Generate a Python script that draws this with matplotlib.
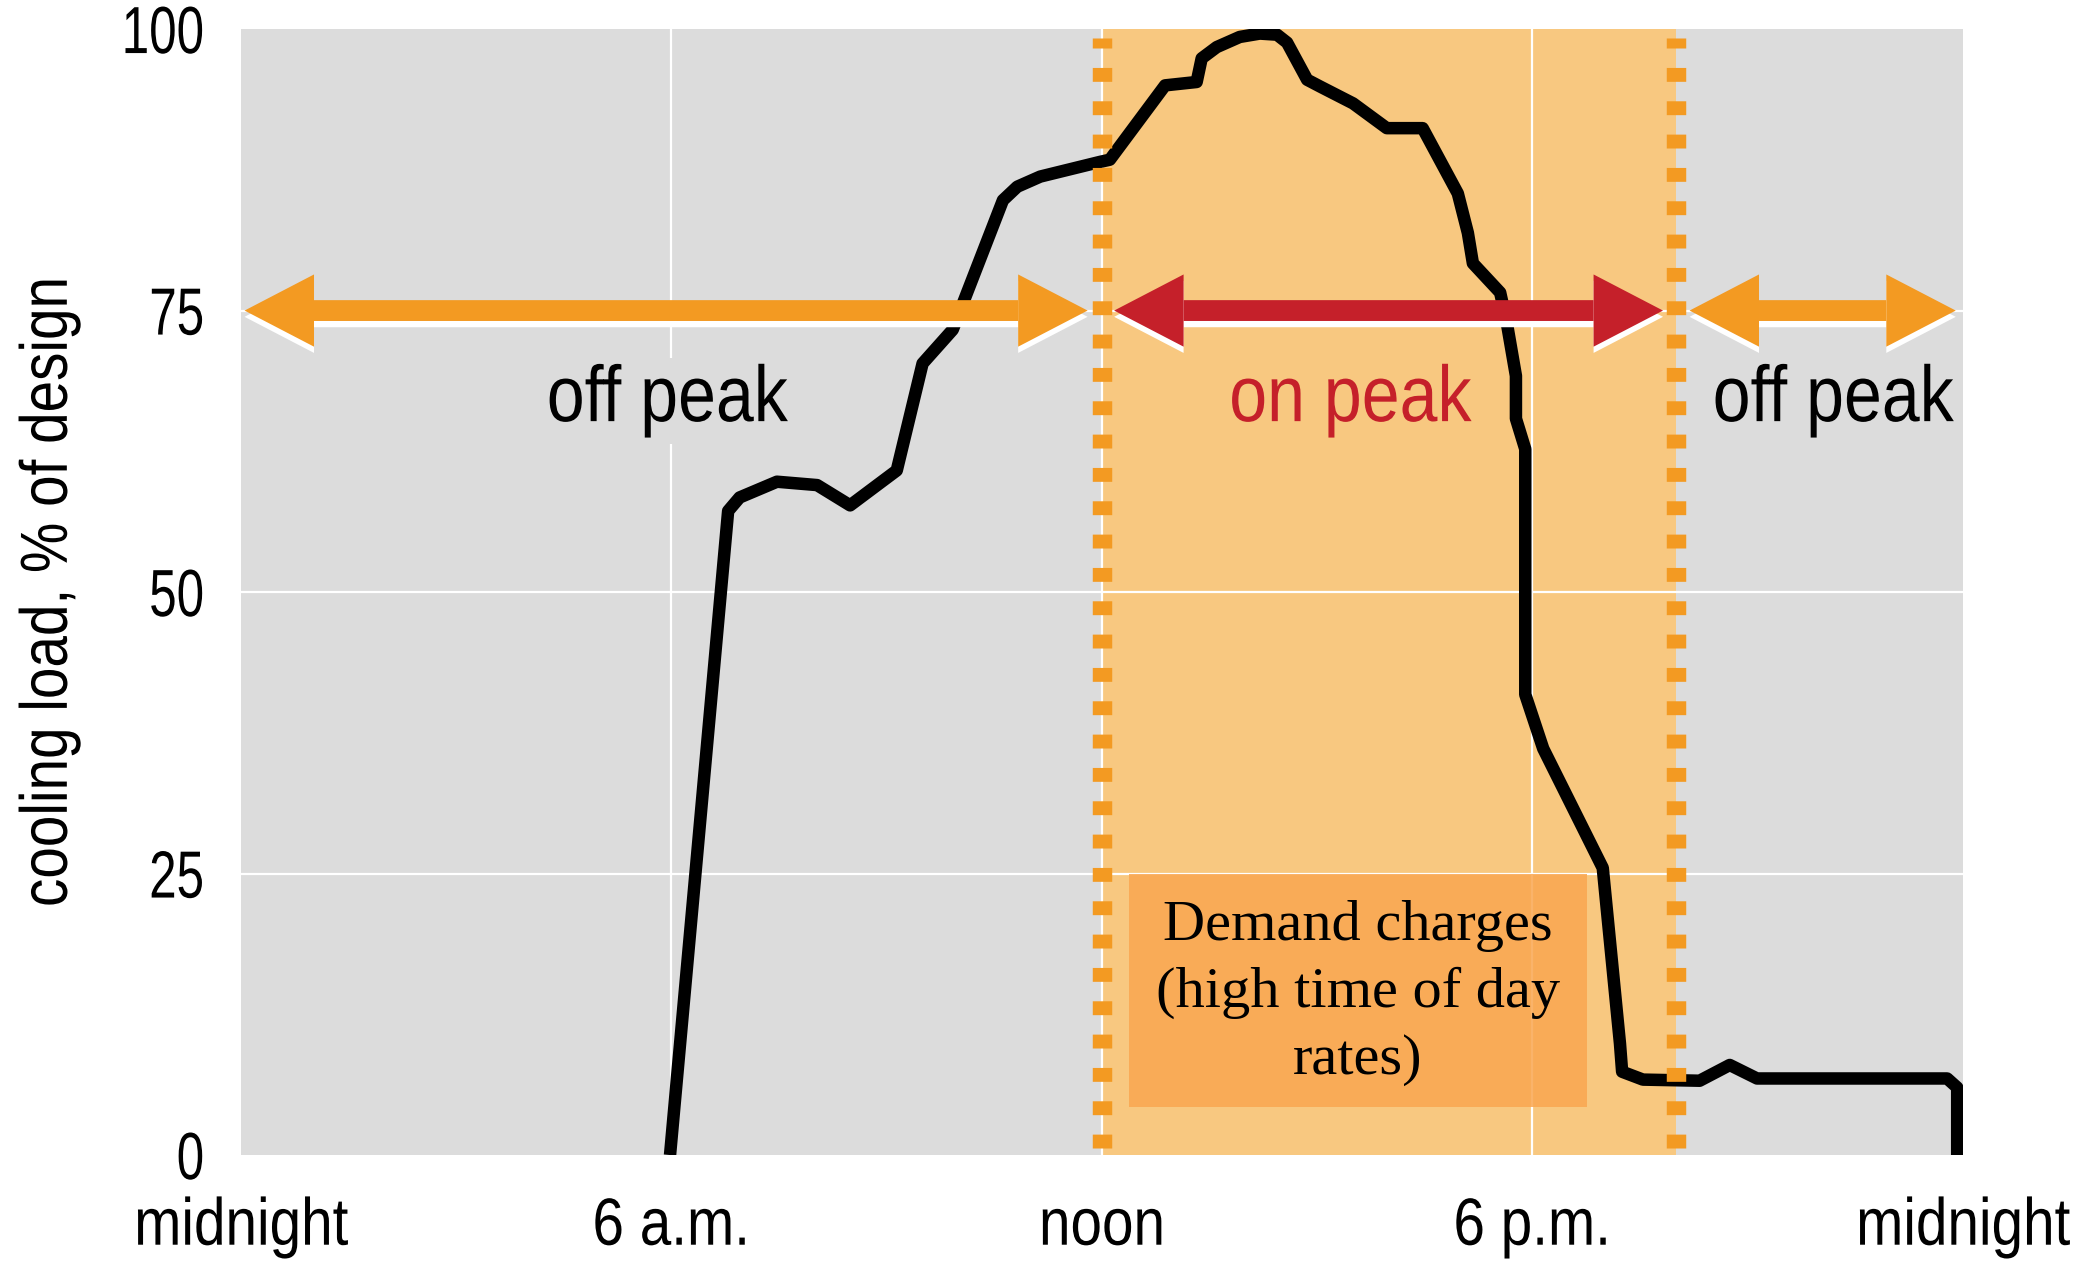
import matplotlib
matplotlib.use("Agg")
import matplotlib.pyplot as plt
import matplotlib.patheffects as pe
from matplotlib.patches import FancyArrowPatch, Rectangle
from matplotlib.transforms import Affine2D

# cooling load profile (hour of day, % of design)
hours = [5.98, 6.79, 6.95, 7.47, 8.03, 8.49, 9.14, 9.5, 9.92, 10.62, 10.82, 11.14,
         11.97, 12.11, 12.88, 13.32, 13.39, 13.6, 13.92, 14.2, 14.44, 14.58, 14.86,
         15.04, 15.5, 15.97, 16.47, 16.96, 17.1, 17.17, 17.55, 17.64, 17.77, 17.77,
         17.9, 17.9, 18.15, 18.98, 19.22, 19.25, 19.54, 20.33, 20.75, 21.13, 23.78,
         23.92, 23.92]
load = [0, 57.2, 58.4, 59.8, 59.5, 57.7, 60.8, 70.3, 73.3, 84.8, 86.0, 86.9,
        88.2, 88.4, 95.0, 95.3, 97.4, 98.4, 99.3, 99.6, 99.5, 98.8, 95.5,
        94.9, 93.4, 91.2, 91.2, 85.4, 81.9, 79.2, 76.6, 74.0, 69.2, 65.4,
        62.7, 40.9, 36.1, 25.5, 9.9, 7.4, 6.7, 6.6, 8.0, 6.8, 6.8,
        6.0, 0]

xticks = [0, 6, 12, 18, 24]
xlabels = ["midnight", "6 a.m.", "noon", "6 p.m.", "midnight"]
yticks = [0, 25, 50, 75, 100]

on_peak = (12, 20)
arrow_y = 75
periods = [(0.05, 11.8, "off peak", "#F39A22"),
           (12.17, 19.82, "on peak", "#C5202A"),
           (20.19, 23.9, "off peak", "#F39A22")]
label_x = [5.94, 15.46, 22.19]
label_y = 67

demand_box = (12.38, 4.3, 18.76, 25)
demand_text = "Demand charges\n(high time of day\nrates)"

GRAY = "#DCDCDC"
BAND = "#F8C880"
ORANGE = "#F39A22"
sans = ["Liberation Sans Narrow", "Arial Narrow", "Liberation Sans"]

plt.rcParams["lines.scale_dashes"] = False


class Squeeze(pe.AbstractPathEffect):
    """narrow the text (no condensed font installed)"""

    def __init__(self, sx=1.0, sy=1.0, anchor="center"):
        super().__init__()
        self.sx, self.sy, self.anchor = sx, sy, anchor

    def draw_path(self, renderer, gc, tpath, affine, rgbFace=None):
        ext = tpath.get_extents(affine)
        cx = ext.x1 if self.anchor == "right" else (ext.x0 + ext.x1) / 2
        cy = (ext.y0 + ext.y1) / 2
        t = affine + Affine2D().translate(-cx, -cy).scale(self.sx, self.sy).translate(cx, cy)
        renderer.draw_path(gc, tpath, t, rgbFace)


fig = plt.figure(figsize=(20.9, 12.64), dpi=100)
ax = fig.add_axes([0.1153, 0.0862, 0.8239, 0.8908])
ax.set_facecolor(GRAY)
ax.set_xlim(0, 24)
ax.set_ylim(0, 100)
for s in ax.spines.values():
    s.set_visible(False)

ax.axvspan(*on_peak, color=BAND, zorder=0.5, lw=0)

# white grid, interior only
for x in xticks[1:-1]:
    ax.axvline(x, color="white", lw=1.6, zorder=1)
for y in yticks[1:-1]:
    ax.axhline(y, color="white", lw=1.6, zorder=1)

x0, y0, x1, y1 = demand_box
ax.add_patch(Rectangle((x0, y0), x1 - x0, y1 - y0, facecolor="#FAA650",
                       alpha=0.85, lw=0, zorder=1.5))
ax.text((x0 + x1) / 2, 14.4, demand_text, ha="center", va="center",
        family="Liberation Serif", fontsize=42, linespacing=1.36, zorder=2)

ax.plot(hours, load, color="black", lw=9, solid_joinstyle="round",
        solid_capstyle="butt", zorder=3)

for x in on_peak:
    ax.plot([x, x], [0.6, 99.2], color=ORANGE, lw=14, dashes=(10, 14),
            dash_capstyle="butt", zorder=4)

head_len, head_w, shaft = 50, 26, 15
for (a, b, name, col), lx in zip(periods, label_x):
    body = FancyArrowPatch((a, arrow_y), (b, arrow_y), arrowstyle="-",
                           lw=shaft, color=col, capstyle="butt",
                           shrinkA=head_len * 0.6, shrinkB=head_len * 0.6,
                           zorder=5)
    body.set_path_effects([pe.SimpleLineShadow(offset=(0, -4.5),
                                               shadow_color="white", alpha=1),
                           pe.Normal()])
    ax.add_patch(body)
    heads = FancyArrowPatch((a, arrow_y), (b, arrow_y),
                            arrowstyle=f"<|-|>,head_length={head_len},head_width={head_w}",
                            mutation_scale=1, lw=0, color=col,
                            shrinkA=0, shrinkB=0, zorder=5.5)
    heads.set_path_effects([pe.SimplePatchShadow(offset=(0, -4.5),
                                                 shadow_rgbFace="white", alpha=1),
                            pe.Normal()])
    ax.add_patch(heads)
    txt_col = "#C5202A" if name == "on peak" else "black"
    # only the left label sits on a grid line
    bbox = dict(facecolor=GRAY, edgecolor="none", pad=4) if lx < 12 else None
    t = ax.text(lx, label_y, name, ha="center", va="center", color=txt_col,
                family=sans, fontsize=57, bbox=bbox, zorder=2)
    t.set_path_effects([Squeeze(sx=0.86)])

ax.set_xticks(xticks)
for t in ax.set_xticklabels(xlabels, family=sans, fontsize=48):
    t.set_path_effects([Squeeze(sx=0.85)])
ax.set_yticks(yticks)
for t in ax.set_yticklabels([str(v) for v in yticks], family=sans, fontsize=48):
    t.set_path_effects([Squeeze(sx=0.74, anchor="right")])
ax.tick_params(axis="both", length=0)
ax.tick_params(axis="x", pad=30)
ax.tick_params(axis="y", pad=26)
ax.set_ylabel("cooling load, % of design", family=sans, fontsize=48)
ax.yaxis.set_label_coords(-0.093, 0.5)
ax.yaxis.label.set_path_effects([Squeeze(sy=0.85)])

fig.savefig("out.png", dpi=100)
